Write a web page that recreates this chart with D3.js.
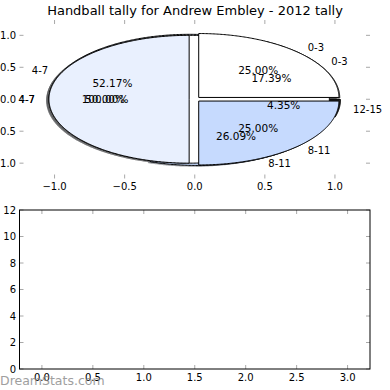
<!DOCTYPE html>
<html>
<head>
<meta charset="utf-8">
<script src="https://cdn.jsdelivr.net/npm/d3@7"></script>
<style>
  body { margin: 0; background: #fff; }
  text { font-family: "DejaVu Sans", sans-serif; }
</style>
</head>
<body>
<div class="chart"></div>
<script>
const W = 390, H = 390;

// tally data (three pies were drawn on top of each other)
const groups_all = ["0-3", "4-7", "8-11", "12-15"];
const counts_all = [4, 12, 6, 1];
const groups_half = ["0-3", "4-7", "8-11"];
const counts_half = [1, 2, 1];
const groups_one = ["4-7"];
const counts_one = [1];

const slice_colors = ["#ffffff", "#e9f0fe", "#c6dafe", "#262626"];

const pie_ticks = [-1.0, -0.5, 0.0, 0.5, 1.0];
const bottom_xticks = [0.0, 0.5, 1.0, 1.5, 2.0, 2.5, 3.0];
const bottom_yticks = [0, 2, 4, 6, 8, 10, 12];

const explode = 0.04;
const tick_len = 4;
const tick_color = "#a8a8a8";

const svg = d3.select(".chart")
    .append("svg")
    .attr("width", W)
    .attr("height", H);

svg.append("rect").attr("width", W).attr("height", H).attr("fill", "#fff");

// title
svg.append("text")
    .attr("x", 195)
    .attr("y", 10)
    .attr("text-anchor", "middle")
    .attr("dominant-baseline", "central")
    .style("font-size", "13px")
    .text("Handball tally for Andrew Embley - 2012 tally");

/* TOP AXES: pie */
const top_box = { left: 19.5, right: 370, top: 20, bottom: 178.5 };

const x_pie = d3.scaleLinear().domain([-1.25, 1.25]).range([top_box.left, top_box.right]);
const y_pie = d3.scaleLinear().domain([-1.24, 1.24]).range([top_box.bottom, top_box.top]);

const pie = d3.pie().sort(null).startAngle(0).endAngle(2 * Math.PI);

function wedgePoints(d, cx, cy) {
    var pts = [];
    var full = (d.endAngle - d.startAngle) >= 2 * Math.PI - 1e-9;
    if (!full) pts.push([cx, cy]);
    var n = Math.max(8, Math.ceil((d.endAngle - d.startAngle) / 0.01));
    for (var i = 0; i <= n; i++) {
        var t = d.startAngle + (d.endAngle - d.startAngle) * i / n;
        pts.push([cx + Math.cos(t), cy + Math.sin(t)]);
    }
    return pts;
}

const pie_line = d3.line()
    .x(function(p) { return x_pie(p[0]); })
    .y(function(p) { return y_pie(p[1]); })
    .curve(d3.curveLinearClosed);

function makeSlices(groups, counts) {
    var total = d3.sum(counts);
    return pie(counts).map(function(d, i) {
        var mid = (d.startAngle + d.endAngle) / 2;
        return {
            arc: d,
            label: groups[i],
            pct: 100 * counts[i] / total,
            color: slice_colors[i],
            mid: mid,
            cx: explode * Math.cos(mid),
            cy: explode * Math.sin(mid)
        };
    });
}

const pies = [
    makeSlices(groups_all, counts_all),
    makeSlices(groups_one, counts_one),
    makeSlices(groups_half, counts_half)
];

const pie_g = svg.append("g");

// shadows sit beneath every wedge
pies.forEach(function(slices) {
    pie_g.selectAll(null)
        .data(slices)
        .enter()
        .append("path")
        .attr("d", function(s) { return pie_line(wedgePoints(s.arc, s.cx - 0.02, s.cy - 0.02)); })
        .attr("fill", function(s) {
            var c = d3.rgb(s.color);
            return d3.rgb(c.r * 0.3, c.g * 0.3, c.b * 0.3);
        })
        .attr("opacity", 0.5);
});

pies.forEach(function(slices) {
    pie_g.selectAll(null)
        .data(slices)
        .enter()
        .append("path")
        .attr("d", function(s) { return pie_line(wedgePoints(s.arc, s.cx, s.cy)); })
        .attr("fill", function(s) { return s.color; })
        .attr("stroke", "#000")
        .attr("stroke-width", 1);
});

pies.forEach(function(slices) {
    // group labels
    pie_g.selectAll(null)
        .data(slices)
        .enter()
        .append("text")
        .attr("x", function(s) { return x_pie(s.cx + 1.1 * Math.cos(s.mid)); })
        .attr("y", function(s) { return y_pie(s.cy + 1.1 * Math.sin(s.mid)); })
        .attr("text-anchor", function(s) { return (s.cx + 1.1 * Math.cos(s.mid)) > 0 ? "start" : "end"; })
        .attr("dominant-baseline", "central")
        .style("font-size", "10px")
        .text(function(s) { return s.label; });

    // percentages
    pie_g.selectAll(null)
        .data(slices)
        .enter()
        .append("text")
        .attr("x", function(s) { return x_pie(s.cx + 0.6 * Math.cos(s.mid)); })
        .attr("y", function(s) { return y_pie(s.cy + 0.6 * Math.sin(s.mid)); })
        .attr("text-anchor", "middle")
        .attr("dominant-baseline", "central")
        .style("font-size", "10.5px")
        .text(function(s) { return s.pct.toFixed(2) + "%"; });
});

// ticks of the top axes (no spines)
function drawTicks(g, xs, ys, xticks, yticks, box, xfmt, yfmt) {
    xticks.forEach(function(t) {
        g.append("line").attr("x1", xs(t)).attr("x2", xs(t))
            .attr("y1", box.bottom).attr("y2", box.bottom - tick_len)
            .attr("stroke", tick_color);
        g.append("line").attr("x1", xs(t)).attr("x2", xs(t))
            .attr("y1", box.top).attr("y2", box.top + tick_len)
            .attr("stroke", tick_color);
        g.append("text")
            .attr("x", xs(t)).attr("y", box.bottom + 8)
            .attr("text-anchor", "middle")
            .attr("dominant-baseline", "central")
            .style("font-size", "10px")
            .text(xfmt(t));
    });
    yticks.forEach(function(t) {
        g.append("line").attr("x1", box.left).attr("x2", box.left + tick_len)
            .attr("y1", ys(t)).attr("y2", ys(t))
            .attr("stroke", tick_color);
        g.append("line").attr("x1", box.right).attr("x2", box.right - tick_len)
            .attr("y1", ys(t)).attr("y2", ys(t))
            .attr("stroke", tick_color);
        g.append("text")
            .attr("x", box.left - 3.5).attr("y", ys(t))
            .attr("text-anchor", "end")
            .attr("dominant-baseline", "central")
            .style("font-size", "10px")
            .text(yfmt(t));
    });
}

const fmt1 = function(v) { return d3.format(".1f")(v).replace("-", "\u2212"); };

drawTicks(svg.append("g"), x_pie, y_pie, pie_ticks, pie_ticks, top_box, fmt1, fmt1);

/* BOTTOM AXES: empty */
const bot_box = { left: 19.5, right: 370, top: 210, bottom: 369 };

const x_bot = d3.scaleLinear().domain([-0.22, 3.22]).range([bot_box.left, bot_box.right]);
const y_bot = d3.scaleLinear().domain([0, 12]).range([bot_box.bottom, bot_box.top]);

const bot_g = svg.append("g");
drawTicks(bot_g, x_bot, y_bot, bottom_xticks, bottom_yticks, bot_box, fmt1, d3.format("d"));

bot_g.append("rect")
    .attr("x", bot_box.left)
    .attr("y", bot_box.top)
    .attr("width", bot_box.right - bot_box.left)
    .attr("height", bot_box.bottom - bot_box.top)
    .attr("fill", "none")
    .attr("stroke", "#000")
    .attr("stroke-width", 1);

// watermark
svg.append("text")
    .attr("x", 0)
    .attr("y", 380)
    .attr("dominant-baseline", "central")
    .style("font-size", "12.5px")
    .attr("fill", "#888")
    .attr("opacity", 0.8)
    .text("DreamStats.com");
</script>
</body>
</html>
